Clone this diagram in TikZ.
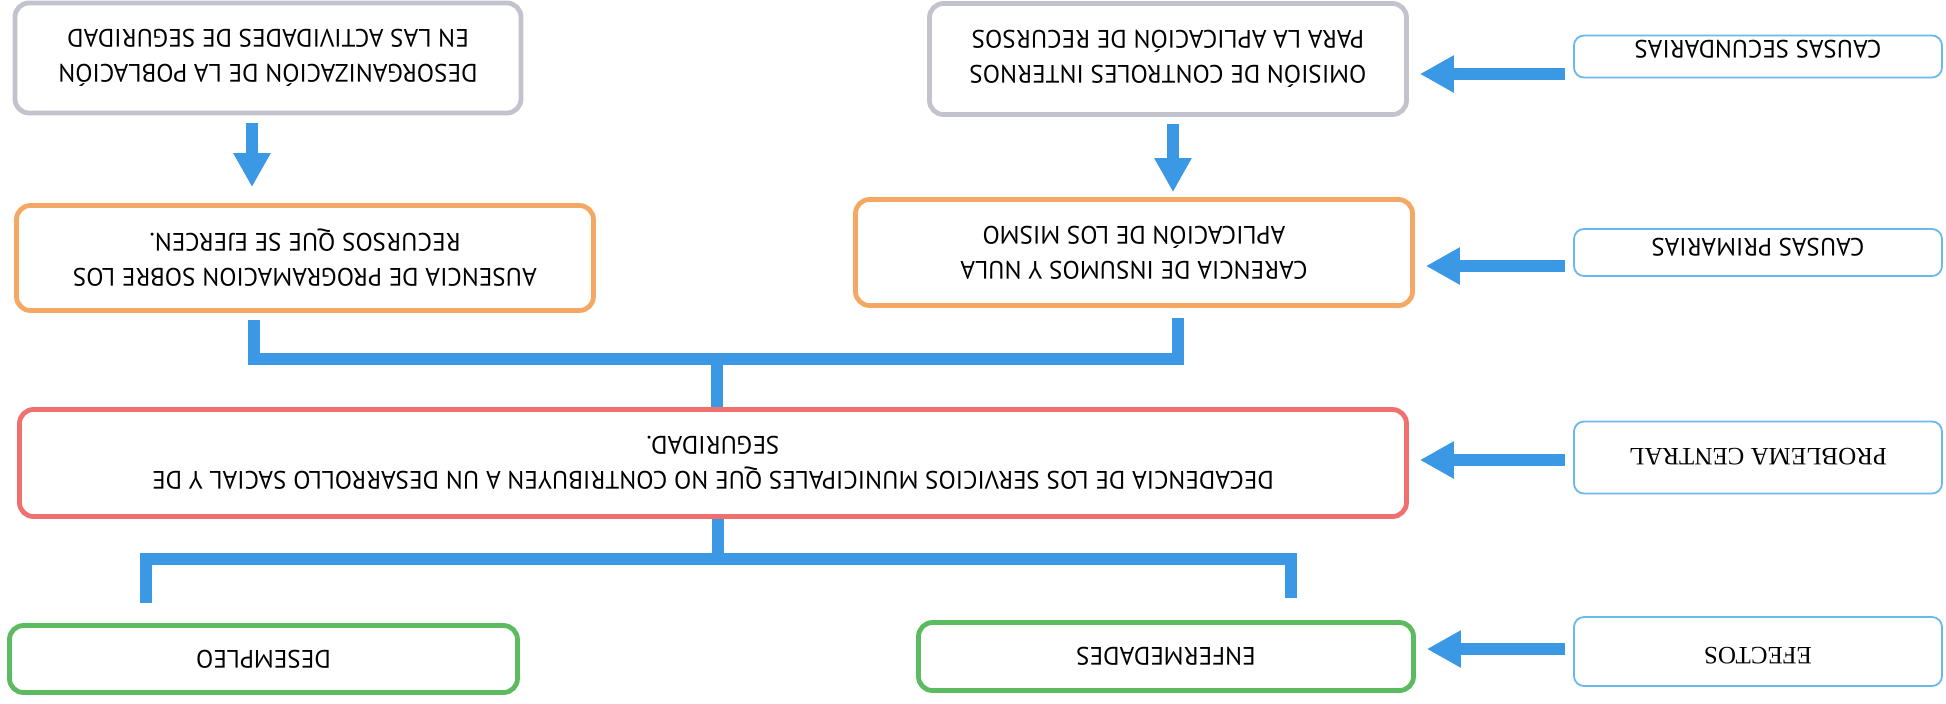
\documentclass[tikz,border=0pt]{standalone}
\usepackage{fontspec}
\setmainfont{PT Sans}
\newfontfamily\tagserif{Liberation Serif}
\usepackage{tikz}
\usepackage{xcolor}
\usetikzlibrary{arrows.meta}
\definecolor{treeblue}{RGB}{58,152,228}
\definecolor{causegray}{RGB}{195,195,205}
\definecolor{causeorange}{RGB}{245,168,100}
\definecolor{centralred}{RGB}{240,112,112}
\definecolor{effectgreen}{RGB}{92,186,96}
\definecolor{tagblue}{RGB}{105,185,235}

\begin{document}
\begin{tikzpicture}[
    x=0.5pt, y=0.5pt,
    rotate=180, transform shape,
    box/.style={%
      draw,
      rectangle,
      rounded corners=7pt,
      line width=2.4pt,
      align=center,
      font=\fontsize{12.6}{17.5}\selectfont,
    },
    tagbox/.style={%
      draw=tagblue,
      rectangle,
      rounded corners=5pt,
      line width=0.9pt,
      minimum width=184pt,
      inner ysep=0pt,
      font=\fontsize{12.5}{14}\selectfont,
    },
    blockarrow/.style={%
      draw=treeblue,
      line width=6pt,
      -{Triangle[length=17pt,width=17.5pt]},
      shorten <=4pt,
      shorten >=5.5pt,
    },
    link/.style={%
      draw=treeblue,
      line width=6pt,
    },
  ]

    \useasboundingbox (0,0) rectangle (1946,703);

    % arbol: efectos arriba, causas abajo
    \node [box, draw=causegray, minimum width=253pt, minimum height=55pt] (g1) at (1678,58)
      {DESORGANIZACIÓN DE LA POBLACIÓN\\EN LAS ACTIVIDADES DE SEGURIDAD};
    \node [box, draw=causegray, minimum width=238.5pt, minimum height=55.5pt] (g2) at (778,59)
      {OMISIÓN DE CONTROLES INTERNOS\\PARA LA APLICACIÓN DE RECURSOS};
    \node [box, draw=causeorange, minimum width=288.5pt, minimum height=52.5pt] (o1) at (1641,258)
      {AUSENCIA DE PROGRAMACION SOBRE LOS\\RECURSOS QUE SE EJERCEN.};
    \node [box, draw=causeorange, minimum width=278.5pt, minimum height=53pt] (o2) at (812,252.5)
      {CARENCIA DE INSUMOS Y NULA\\APLICACIÓN DE LOS MISMO};
    \node [box, draw=centralred, minimum width=693.5pt, minimum height=53.5pt] (red) at (1233,463)
      {DECADENCIA DE LOS SERVICIOS MUNICIPALES QUE NO CONTRIBUYEN A UN DESARROLLO SACIAL Y DE\\SEGURIDAD.};
    \node [box, draw=effectgreen, minimum width=254pt, minimum height=33.5pt] (gl) at (1682.5,659) {DESEMPLEO};
    \node [box, draw=effectgreen, minimum width=247.5pt, minimum height=34pt] (gr) at (780,656.5) {ENFERMEDADES};

    % etiquetas
    \node [tagbox, minimum height=21pt, text height=16.5pt, text depth=0pt] (s1) at (188,56.5) {CAUSAS SECUNDARIAS};
    \node [tagbox, minimum height=23.5pt, text height=14.5pt, text depth=0pt] (s2) at (188,252.5) {CAUSAS PRIMARIAS};
    \node [tagbox, minimum height=36pt, text height=9pt, text depth=0pt] (s3) at (188,457.5) {\tagserif PROBLEMA CENTRAL};
    \node [tagbox, minimum height=34.5pt, text height=4.5pt, text depth=0pt] (s4) at (188,651.5) {\tagserif EFECTOS};

    \draw [blockarrow] (s1.east |- 0,74) -- (g2.west |- 0,74);
    \draw [blockarrow] (s2.east |- 0,266) -- (o2.west |- 0,266);
    \draw [blockarrow] (s3.east |- 0,460) -- (red.west |- 0,460);
    \draw [blockarrow] (s4.east |- 0,649) -- (gr.west |- 0,649);

    \draw [blockarrow, shorten >=8pt] (g1.north -| 1694,0) -- (o1.south -| 1694,0);
    \draw [blockarrow, shorten <=3.5pt, shorten >=2.5pt] (g2.north -| 773,0) -- (o2.south -| 773,0);

    \coordinate (causebus) at (1229,359);
    \coordinate (effectbus) at (1228,559);
    \draw [link, shorten <=3.5pt, shorten >=5pt] (o1.north -| 1692,0) |- (causebus) -| (o2.north -| 768,0);
    \draw [link] (causebus) -- (red.south -| causebus);
    \draw [link] (red.north -| effectbus) -- (effectbus);
    \draw [link, shorten <=10pt, shorten >=11pt] (gl.south -| 1800,0) |- (effectbus) -| (gr.south -| 655,0);
\end{tikzpicture}
\end{document}
